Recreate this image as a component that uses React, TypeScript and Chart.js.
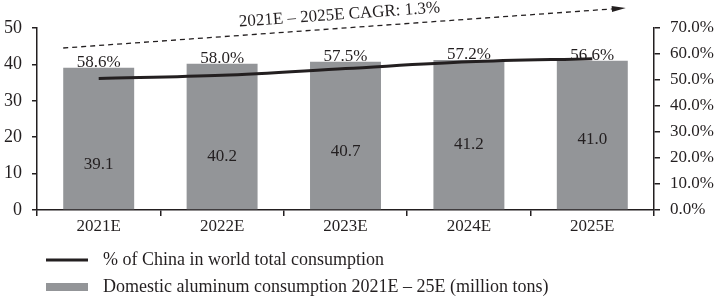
import React, { useEffect, useRef } from "react";
import { Chart, registerables } from "chart.js";

Chart.register(...registerables);

const categories = ["2021E", "2022E", "2023E", "2024E", "2025E"];
const consumption = [39.1, 40.2, 40.7, 41.2, 41.0];
const chinaShareLine = [50.6, 51.8, 54.4, 57.0, 58.2];
const chinaShareLabels = ["58.6%", "58.0%", "57.5%", "57.2%", "56.6%"];
const leftTicks = [0, 10, 20, 30, 40, 50];
const rightTicks = [0, 10, 20, 30, 40, 50, 60, 70];
const cagrText = "2021E \u2013 2025E CAGR: 1.3%";
const cagrFrom = 44.5;
const cagrTo = 55.5;
const legendLine = "% of China in world total consumption";
const legendBar = "Domestic aluminum consumption 2021E \u2013 25E (million tons)";

const FONT = "'Liberation Serif', 'Times New Roman', serif";
const INK = "#231f20";
const BAR = "#939598";

const overlay = {
  id: "overlay",
  afterDatasetsDraw(chart: any) {
    const ctx = chart.ctx;
    const barMeta = chart.getDatasetMeta(1);
    const y = chart.scales.y;
    const lifts = [45, 53, 58, 65, 70];
    ctx.save();
    ctx.fillStyle = INK;
    ctx.font = `17px ${FONT}`;
    ctx.textAlign = "center";
    barMeta.data.forEach((bar: any, i: number) => {
      ctx.textBaseline = "bottom";
      ctx.fillText(chinaShareLabels[i], bar.x, bar.y + 3);
      ctx.textBaseline = "middle";
      ctx.fillText(consumption[i].toFixed(1), bar.x, y.bottom - lifts[i]);
    });

    // CAGR arrow
    const first = barMeta.data[0];
    const last = barMeta.data[barMeta.data.length - 1];
    const x0 = first.x - first.width / 2;
    const x1 = last.x + last.width / 2 - 2;
    const y0 = y.getPixelForValue(cagrFrom);
    const y1 = y.getPixelForValue(cagrTo);
    const ang = Math.atan2(y1 - y0, x1 - x0);
    const ah = 14;
    ctx.strokeStyle = INK;
    ctx.lineWidth = 1.3;
    ctx.setLineDash([5, 4]);
    ctx.beginPath();
    ctx.moveTo(x0, y0);
    ctx.lineTo(x1 - ah * Math.cos(ang), y1 - ah * Math.sin(ang));
    ctx.stroke();
    ctx.setLineDash([]);
    ctx.beginPath();
    ctx.moveTo(x1, y1);
    ctx.lineTo(x1 - ah * Math.cos(ang) - 3 * Math.sin(ang), y1 - ah * Math.sin(ang) + 3 * Math.cos(ang));
    ctx.lineTo(x1 - ah * Math.cos(ang) + 3 * Math.sin(ang), y1 - ah * Math.sin(ang) - 3 * Math.cos(ang));
    ctx.closePath();
    ctx.fill();

    const mx = (x0 + x1) / 2 - 5;
    const my = (y0 + y1) / 2 - 13;
    ctx.translate(mx, my);
    ctx.rotate(ang);
    ctx.textBaseline = "middle";
    ctx.textAlign = "center";
    ctx.font = `17px ${FONT}`;
    ctx.fillText(cagrText, 0, 0);
    ctx.restore();
  },
  afterDraw(chart: any) {
    const ctx = chart.ctx;
    const left = chart.chartArea.left;
    ctx.save();
    ctx.fillStyle = INK;
    ctx.strokeStyle = INK;
    ctx.lineWidth = 3;
    ctx.beginPath();
    ctx.moveTo(left + 9, 260);
    ctx.lineTo(left + 51, 260);
    ctx.stroke();
    ctx.fillStyle = BAR;
    ctx.fillRect(left + 9, 283, 42, 8);
    ctx.fillStyle = INK;
    ctx.font = `18px ${FONT}`;
    ctx.textAlign = "left";
    ctx.textBaseline = "middle";
    ctx.fillText(legendLine, left + 66, 260);
    ctx.fillText(legendBar, left + 66, 287);
    ctx.restore();
  },
};

export default function App() {
  const ref = useRef<HTMLCanvasElement>(null);
  useEffect(() => {
    document.body.style.margin = "0";
    Chart.defaults.font.family = FONT;
    Chart.defaults.color = INK;
    const chart = new Chart(ref.current!, {
      type: "bar",
      data: {
        labels: categories,
        datasets: [
          {
            type: "line",
            label: legendLine,
            data: chinaShareLine,
            yAxisID: "y1",
            borderColor: INK,
            borderWidth: 3,
            pointRadius: 0,
            cubicInterpolationMode: "monotone",
            order: 0,
          } as any,
          {
            type: "bar",
            label: legendBar,
            data: consumption,
            yAxisID: "y",
            backgroundColor: BAR,
            barPercentage: 0.575,
            categoryPercentage: 1,
            order: 1,
          },
        ],
      },
      options: {
        responsive: false,
        animation: false,
        devicePixelRatio: 1,
        layout: { padding: { top: 28, bottom: 60, left: 0, right: 0 } },
        plugins: { legend: { display: false }, tooltip: { enabled: false } },
        scales: {
          x: {
            grid: { display: true, drawOnChartArea: false, drawTicks: true, tickLength: 6, color: INK, lineWidth: 1.5, offset: true },
            border: { display: true, color: INK, width: 1.5 },
            ticks: { font: { size: 17, family: FONT }, color: INK, padding: 0 },
            afterFit: (s: any) => { s.height = 27; },
          },
          y: {
            position: "left",
            min: 0,
            max: 50,
            afterBuildTicks: (s: any) => { s.ticks = leftTicks.map((v) => ({ value: v })); },
            grid: { display: true, drawOnChartArea: false, drawTicks: true, tickLength: 5, color: INK, lineWidth: 1.5 },
            border: { display: true, color: INK, width: 1.5 },
            ticks: { font: { size: 18, family: FONT }, color: INK, padding: 10 },
            afterFit: (s: any) => { s.width = 37; },
          },
          y1: {
            position: "right",
            min: 0,
            max: 70,
            afterBuildTicks: (s: any) => { s.ticks = rightTicks.map((v) => ({ value: v })); },
            grid: { display: true, drawOnChartArea: false, drawTicks: true, tickLength: 6, color: INK, lineWidth: 1.5 },
            border: { display: true, color: INK, width: 1.5 },
            ticks: { font: { size: 17, family: FONT }, color: INK, padding: 10, callback: (v: any) => Number(v).toFixed(1) + "%" },
            afterFit: (s: any) => { s.width = 64; },
          },
        },
      },
      plugins: [overlay],
    });
    return () => chart.destroy();
  }, []);
  return <canvas ref={ref} width={718} height={297} style={{ display: "block" }} />;
}
